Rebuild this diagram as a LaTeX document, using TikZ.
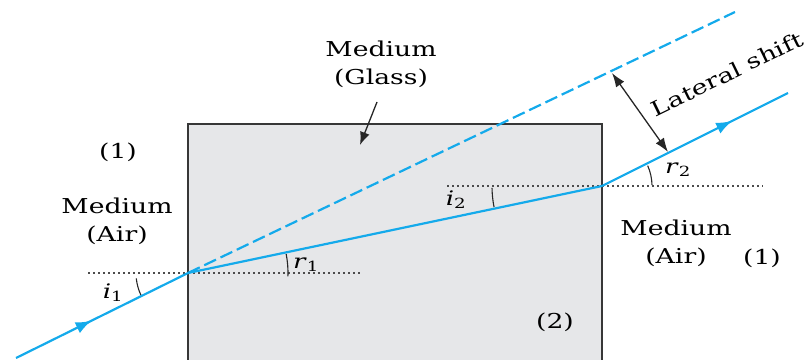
\documentclass[tikz,border=0pt]{standalone}
\usepackage{fontspec}
\setmainfont[FakeStretch=1.3]{DejaVu Serif}
\usetikzlibrary{arrows.meta,decorations.markings}
\definecolor{raycol}{RGB}{20,170,235}
\definecolor{glass}{RGB}{230,231,233}
\definecolor{edgecol}{RGB}{55,55,55}
\begin{document}
\begin{tikzpicture}[x=1pt,y=1pt,
  lbl/.style={font=\fontsize{20.5}{28}\selectfont, align=center, inner sep=0pt},
  anglbl/.style={font=\fontsize{20}{24}\selectfont, inner sep=0pt},
  raystyle/.style={draw=raycol, line width=2.2pt},
  normalline/.style={draw=black!70, line width=1.2pt, dash pattern=on 2pt off 3pt},
  angarc/.style={draw=black!85, line width=1.1pt},
  midarrow/.style={postaction={decorate},decoration={markings, mark=at position #1 with {\arrow{Latex[length=16pt,width=12pt]}}}},
  thinarrow/.style={draw=black!85, line width=1.3pt}
]
\useasboundingbox (0,0) rectangle (809,359);
\coordinate (S) at (16,1);
\coordinate (E) at (188,86);
\coordinate (X) at (602,173);
\coordinate (T) at (788,266);
\coordinate (D) at (735,347);
\coordinate (N1a) at (88,86);
\coordinate (N1b) at (362,86);
\coordinate (N2a) at (447,173);
\coordinate (N2b) at (763,173);
\coordinate (LS1) at (612,286);
\coordinate (LS2) at (668,207);
\coordinate (GA) at (377,257);
\coordinate (GB) at (360,214);

\draw[fill=glass, draw=edgecol, line width=2.4pt] (188,-10) rectangle (602,235);
\path[normalline] (N1a) -- (N1b);
\path[normalline] (N2a) -- (N2b);
\draw[raystyle, dash pattern=on 13pt off 5pt] (E) -- (D);
\draw[raystyle, midarrow=0.44] (S) -- (E);
\draw[raystyle] (E) -- (X);
\draw[raystyle, midarrow=0.7] (X) -- (T);

\draw[angarc] ([shift={(186:52)}]E) arc (186:205:52);
\draw[angarc] ([shift={(-2:100)}]E) arc (-2:11:100);
\draw[angarc] ([shift={(181:110)}]X) arc (181:191:110);
\draw[angarc] ([shift={(1:50)}]X) arc (1:24:50);

\draw[thinarrow, {Latex[length=14pt,width=10pt]}-{Latex[length=14pt,width=10pt]}] (LS1) -- (LS2);
\draw[thinarrow, -{Latex[length=13pt,width=10pt]}] (GA) -- (GB);

\node[anglbl] (i1) at (113,66) {\textit{i}\textsubscript{1}};
\node[anglbl] (r1) at (306,94) {\textit{r}\textsubscript{1}};
\node[anglbl] (i2) at (456,159) {\textit{i}\textsubscript{2}};
\node[anglbl] (r2) at (678,189) {\textit{r}\textsubscript{2}};

\node[lbl] (one1) at (118,207) {(1)};
\node[lbl] (airL) at (117,138) {Medium\\(Air)};
\node[lbl] (glassL) at (381,295) {Medium\\(Glass)};
\node[lbl] (airR) at (676,116) {Medium\\(Air)};
\node[lbl] (one2) at (762,101) {(1)};
\node[lbl] (two) at (555,37) {(2)};
\node[lbl, rotate=26] (lat) at (727,285) {Lateral shift};
\end{tikzpicture}
\end{document}
